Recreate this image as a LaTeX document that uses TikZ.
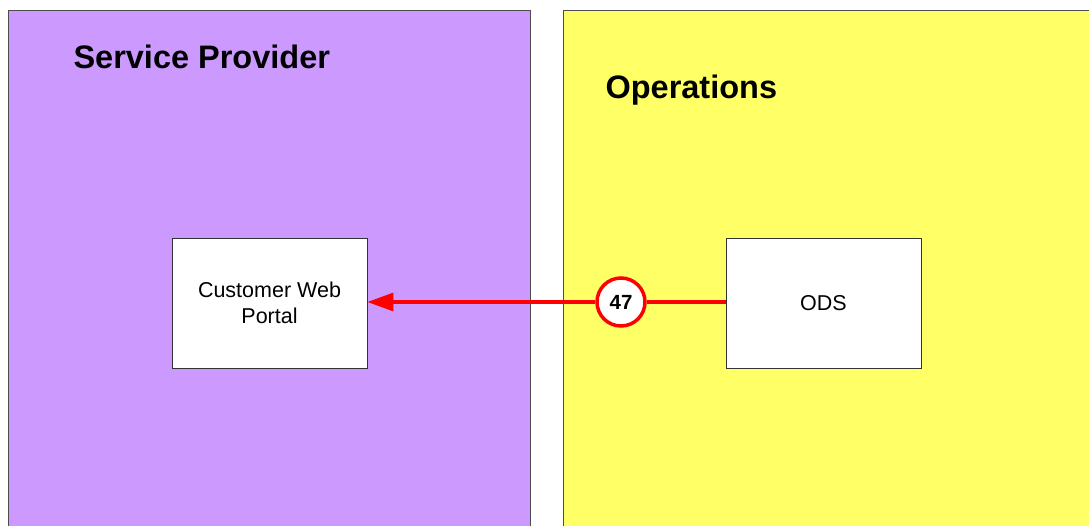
\documentclass[tikz,border=0pt]{standalone}
\usepackage{fontspec}
\setmainfont{Liberation Sans}
\usetikzlibrary{arrows.meta}
\definecolor{provider}{HTML}{CC99FF}
\definecolor{operations}{HTML}{FFFF66}
\definecolor{flowred}{HTML}{FF0000}
\tikzset{
  lane/.style={draw=black!70,line width=0.8pt},
  lanetitle/.style={anchor=west,font=\fontsize{32.5}{38}\selectfont\bfseries},
  sysbox/.style={draw=black!80,fill=white,line width=0.8pt,minimum width=195pt,
    minimum height=130pt,align=center,font=\fontsize{21.5}{26}\selectfont},
  flowno/.style={circle,draw=flowred,fill=white,line width=3.5pt,minimum size=48pt,
    inner sep=0pt,font=\fontsize{20.5}{24}\selectfont\bfseries},
  flow/.style={draw=flowred,line width=3.2pt}
}
\begin{document}
\begin{tikzpicture}[x=1pt,y=-1pt]
              \useasboundingbox (0,0) rectangle (1089,525);
              \clip (0,0) rectangle (1089,525);
              % lanes
              \draw[lane,fill=provider] (8,10) rectangle (530,540);
              \draw[lane,fill=operations] (563,10) rectangle (1100,540);
              \node[lanetitle] (sp) at (70,57) {Service Provider};
              \node[lanetitle] (op) at (602,90) {Operations};
              % systems
              \node[sysbox] (portal) at (269.5,303) {Customer Web\\Portal};
              \node[sysbox] (ods) at (823.5,303) {ODS};
              % flows
              \node[flowno] (f47) at (621,302) {47};
              \draw[flow] (ods.west|-f47) -- (f47);
              \draw[flow,-{Triangle[length=26pt,width=18pt]}] (f47) -- (portal.east|-f47);
\end{tikzpicture}
\end{document}
